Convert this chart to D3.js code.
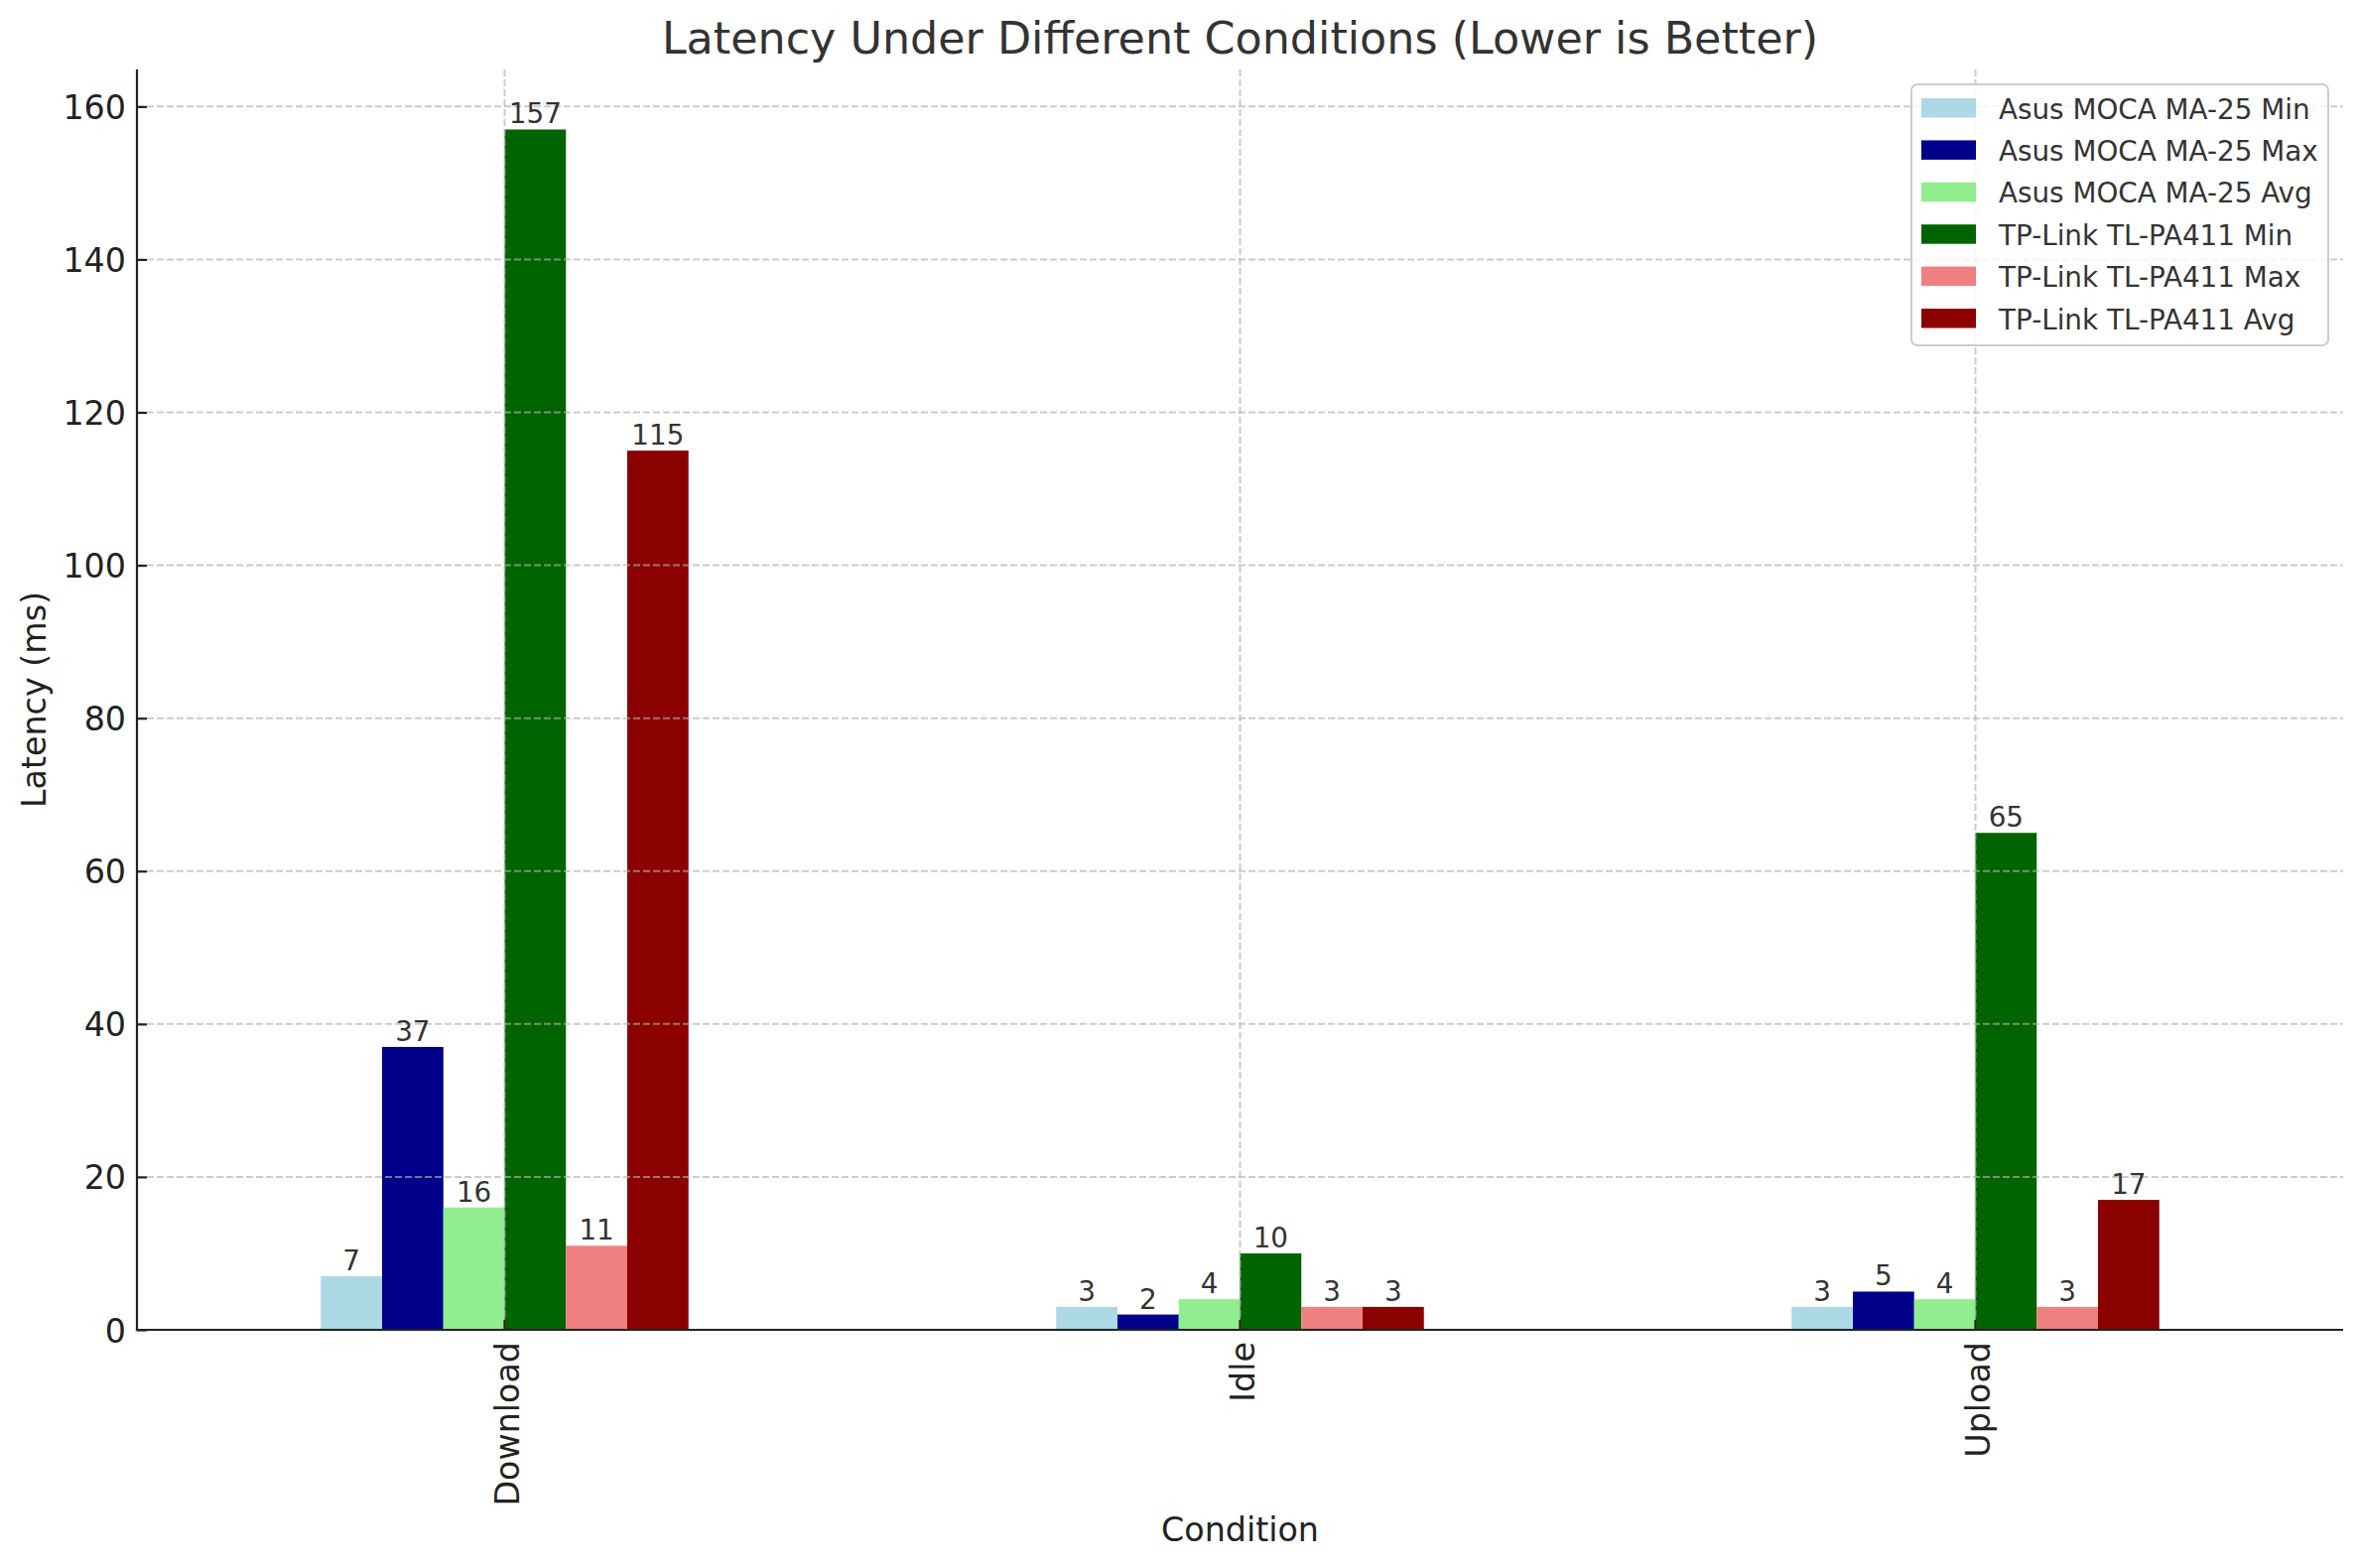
<!DOCTYPE html>
<html>
<head>
<meta charset="utf-8">
<script src="https://cdn.jsdelivr.net/npm/d3@7"></script>
<style>
	body { margin: 0; background: #fff; }
	text { font-family: "DejaVu Sans", sans-serif; }
</style>
</head>
<body>
<div id="chart"></div>
<script>
// chart data
var conditions = ["Download", "Idle", "Upload"];
var seriesNames = ["Asus MOCA MA-25 Min", "Asus MOCA MA-25 Max", "Asus MOCA MA-25 Avg",
	"TP-Link TL-PA411 Min", "TP-Link TL-PA411 Max", "TP-Link TL-PA411 Avg"];
var asusMin = [7, 3, 3];
var asusMax = [37, 2, 5];
var asusAvg = [16, 4, 4];
var tpMin = [157, 10, 65];
var tpMax = [11, 3, 3];
var tpAvg = [115, 3, 17];
var yTicks = [0, 20, 40, 60, 80, 100, 120, 140, 160];
var colors = ["#add8e6", "#00008b", "#90ee90", "#006400", "#f08080", "#8b0000"];

var seriesValues = [asusMin, asusMax, asusAvg, tpMin, tpMax, tpAvg];

var width = 2379, height = 1580;
var plot = {left: 138, right: 2361, top: 70, bottom: 1340};

var svg = d3.select("#chart").append("svg")
	.attr("width", width)
	.attr("height", height);

svg.append("rect").attr("width", width).attr("height", height).attr("fill", "#fff");

//x scales: condition groups then series inside a group
var xScale = d3.scaleBand()
	.domain(conditions)
	.range([plot.left, plot.right])
	.paddingInner(0.5)
	.paddingOuter(0.25);

var xInner = d3.scaleBand()
	.domain(seriesNames)
	.range([0, xScale.bandwidth()]);

var maxVal = d3.max(seriesValues, s => d3.max(s));
var yScale = d3.scaleLinear()
	.domain([0, maxVal * 1.05])
	.range([plot.bottom, plot.top]);

function center(c) { return xScale(c) + xScale.bandwidth() / 2; }

//bars
var barData = [];
seriesNames.forEach(function(name, si) {
	conditions.forEach(function(c, ci) {
		barData.push({series: name, cond: c, value: seriesValues[si][ci], color: colors[si]});
	});
});

svg.append("g").selectAll("rect")
	.data(barData)
	.enter().append("rect")
		.attr("x", d => xScale(d.cond) + xInner(d.series))
		.attr("width", xInner.bandwidth())
		.attr("y", d => yScale(d.value))
		.attr("height", d => yScale(0) - yScale(d.value))
		.attr("fill", d => d.color);

//grid (on top of the bars)
var grid = svg.append("g")
	.attr("stroke", "#b0b0b0")
	.attr("stroke-opacity", 0.65)
	.attr("stroke-width", 2)
	.attr("stroke-dasharray", "7,3");
grid.selectAll(".hg").data(yTicks).enter().append("line")
	.attr("x1", plot.left).attr("x2", plot.right)
	.attr("y1", d => yScale(d)).attr("y2", d => yScale(d));
grid.selectAll(".vg").data(conditions).enter().append("line")
	.attr("x1", d => center(d)).attr("x2", d => center(d))
	.attr("y1", plot.top).attr("y2", plot.bottom);

//value labels
svg.append("g").selectAll("text")
	.data(barData)
	.enter().append("text")
		.attr("x", d => xScale(d.cond) + xInner(d.series) + xInner.bandwidth() / 2)
		.attr("y", d => yScale(d.value) - 6)
		.attr("text-anchor", "middle")
		.attr("font-size", 27.8)
		.attr("fill", "#333")
		.text(d => d.value);

//y axis
var yAxis = svg.append("g")
	.attr("transform", "translate(" + plot.left + ",0)")
	.call(d3.axisLeft(yScale).tickValues(yTicks).tickSizeInner(-10).tickSizeOuter(0).tickPadding(11));
yAxis.select(".domain").remove();
yAxis.selectAll(".tick line").attr("stroke", "#222").attr("stroke-width", 2.2);
yAxis.selectAll(".tick text")
	.attr("font-size", 33.3)
	.attr("font-family", "DejaVu Sans")
	.attr("fill", "#222")
	.attr("dy", "0.36em");

//x axis
var xAxis = svg.append("g")
	.attr("transform", "translate(0," + plot.bottom + ")")
	.call(d3.axisBottom(xScale).tickSizeInner(-10).tickSizeOuter(0));
xAxis.select(".domain").remove();
xAxis.selectAll(".tick line").attr("stroke", "#222").attr("stroke-width", 2.2);
xAxis.selectAll(".tick text")
	.attr("font-size", 33.3)
	.attr("font-family", "DejaVu Sans")
	.attr("fill", "#222")
	.attr("text-anchor", "end")
	.attr("transform", "translate(14,12) rotate(-90)")
	.attr("x", 0).attr("y", 0).attr("dy", 0);

//spines: left and bottom only
svg.append("line")
	.attr("x1", plot.left).attr("x2", plot.left)
	.attr("y1", plot.top).attr("y2", plot.bottom + 1.1)
	.attr("stroke", "#222").attr("stroke-width", 2.2);
svg.append("line")
	.attr("x1", plot.left - 1.1).attr("x2", plot.right)
	.attr("y1", plot.bottom).attr("y2", plot.bottom)
	.attr("stroke", "#222").attr("stroke-width", 2.2);

//titles
svg.append("text")
	.attr("x", (plot.left + plot.right) / 2)
	.attr("y", 54)
	.attr("text-anchor", "middle")
	.attr("font-size", 44.4)
	.attr("fill", "#333")
	.text("Latency Under Different Conditions (Lower is Better)");
svg.append("text")
	.attr("x", (plot.left + plot.right) / 2)
	.attr("y", 1553)
	.attr("text-anchor", "middle")
	.attr("font-size", 33.3)
	.attr("fill", "#222")
	.text("Condition");
svg.append("text")
	.attr("transform", "translate(46," + ((plot.top + plot.bottom) / 2) + ") rotate(-90)")
	.attr("text-anchor", "middle")
	.attr("font-size", 33.3)
	.attr("fill", "#222")
	.text("Latency (ms)");

//legend
var legend = svg.append("g").attr("transform", "translate(1926,85)");
legend.append("rect")
	.attr("width", 420).attr("height", 263)
	.attr("rx", 6).attr("ry", 6)
	.attr("fill", "#fff").attr("fill-opacity", 0.8)
	.attr("stroke", "#cccccc").attr("stroke-width", 2);
var rows = legend.selectAll(".row")
	.data(seriesNames)
	.enter().append("g")
		.attr("transform", (d, i) => "translate(0," + (24 + i * 42.4) + ")");
rows.append("rect")
	.attr("x", 10).attr("y", -10)
	.attr("width", 55).attr("height", 19.5)
	.attr("fill", (d, i) => colors[i]);
rows.append("text")
	.attr("x", 88).attr("y", 10.5)
	.attr("font-size", 27.8)
	.attr("fill", "#333")
	.text(d => d);
</script>
</body>
</html>
